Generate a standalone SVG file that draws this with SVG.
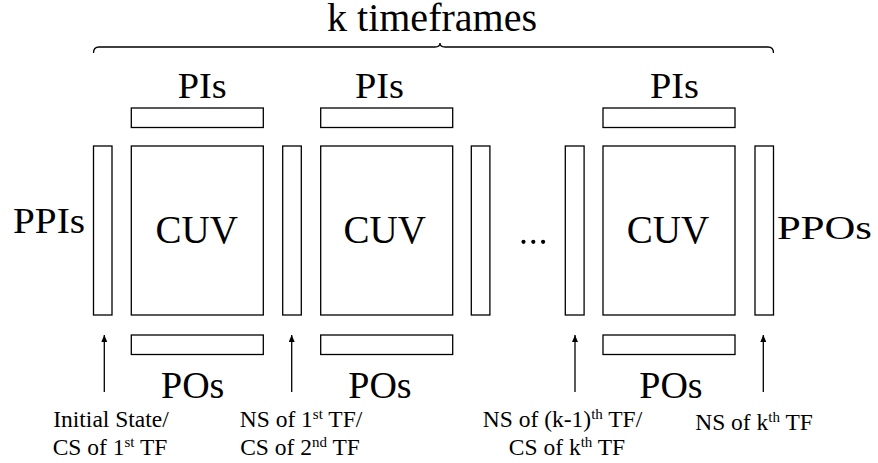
<svg xmlns="http://www.w3.org/2000/svg" width="878" height="463" viewBox="0 0 878 463">
  <style>
    .box { fill: #fff; stroke: #000; stroke-width: 1.3; }
    .wire { fill: none; stroke: #000; stroke-width: 1.3; }
    text { font-family: "Liberation Serif", "Times New Roman", serif; fill: #000; }
    .pi { font-size: 35px; }
    .po { font-size: 38px; }
    .cuv { font-size: 39px; text-anchor: middle; }
    .lbl { font-size: 23.5px; text-anchor: middle; }
    .sup { font-size: 15px; }
  </style>
  <defs>
    <marker id="tip" viewBox="0 0 7 6" refX="7" refY="3" markerWidth="7" markerHeight="6" markerUnits="userSpaceOnUse" orient="auto">
      <path d="M0,0 L7,3 L0,6 Z" fill="#000"/>
    </marker>
  </defs>

  <rect width="878" height="463" fill="#fff"/>

  <!-- span of all timeframes -->
  <g id="span">
    <path class="wire" d="M93.5,53 Q93.5,47 99,47 L435,47 Q440,47 440,43 Q440,47 445,47 L768,47 Q773.5,47 773.5,53"/>
    <text x="432" y="31" font-size="40" text-anchor="middle">k timeframes</text>
  </g>

  <!-- side labels -->
  <g id="ppi-label"><text x="13" y="233" font-size="35" textLength="72" lengthAdjust="spacingAndGlyphs">PPIs</text></g>
  <g id="ppo-label"><text x="777" y="239" font-size="34" textLength="95" lengthAdjust="spacingAndGlyphs">PPOs</text></g>

  <!-- state registers between timeframes -->
  <g id="reg0"><rect class="box" x="93.5" y="146" width="18.5" height="169"/></g>
  <g id="reg1"><rect class="box" x="282.7" y="146" width="18.6" height="169"/></g>
  <g id="reg2"><rect class="box" x="471.3" y="146" width="18.6" height="169"/></g>
  <g id="reg3"><rect class="box" x="565.3" y="146" width="18.8" height="169"/></g>
  <g id="reg4"><rect class="box" x="755" y="146" width="18.5" height="169"/></g>

  <!-- timeframe 1 -->
  <g id="pi1">
    <text class="pi" x="177.7" y="98" textLength="49" lengthAdjust="spacingAndGlyphs">PIs</text>
    <rect class="box" x="131.3" y="108" width="132" height="19.5"/>
  </g>
  <g id="cuv1">
    <rect class="box" x="131.3" y="146" width="132" height="169"/>
    <text class="cuv" x="196.7" y="243">CUV</text>
  </g>
  <g id="po1">
    <rect class="box" x="131.3" y="335" width="132" height="19.5"/>
    <text class="po" x="161" y="398">POs</text>
  </g>

  <!-- timeframe 2 -->
  <g id="pi2">
    <text class="pi" x="355" y="98" textLength="49" lengthAdjust="spacingAndGlyphs">PIs</text>
    <rect class="box" x="320.7" y="108" width="132" height="19.5"/>
  </g>
  <g id="cuv2">
    <rect class="box" x="320.7" y="146" width="132" height="169"/>
    <text class="cuv" x="384.7" y="243">CUV</text>
  </g>
  <g id="po2">
    <rect class="box" x="320.7" y="335" width="132" height="19.5"/>
    <text class="po" x="348.3" y="398">POs</text>
  </g>

  <!-- ellipsis between timeframes -->
  <g id="ellipsis">
    <circle cx="523.5" cy="241.8" r="2.1"/>
    <circle cx="533.3" cy="241.8" r="2.1"/>
    <circle cx="543.1" cy="241.8" r="2.1"/>
  </g>

  <!-- timeframe k -->
  <g id="pik">
    <text class="pi" x="650" y="98" textLength="49" lengthAdjust="spacingAndGlyphs">PIs</text>
    <rect class="box" x="603" y="108" width="132" height="19.5"/>
  </g>
  <g id="cuvk">
    <rect class="box" x="603" y="146" width="132" height="169"/>
    <text class="cuv" x="668" y="243">CUV</text>
  </g>
  <g id="pok">
    <rect class="box" x="603" y="335" width="132" height="19.5"/>
    <text class="po" x="639.3" y="398">POs</text>
  </g>

  <!-- state arrows into the registers -->
  <g id="connectors">
    <line class="wire" x1="104.3" y1="392" x2="104.3" y2="335" marker-end="url(#tip)"/>
    <line class="wire" x1="291.7" y1="392" x2="291.7" y2="335" marker-end="url(#tip)"/>
    <line class="wire" x1="575" y1="392" x2="575" y2="335" marker-end="url(#tip)"/>
    <line class="wire" x1="763.3" y1="392" x2="763.3" y2="335" marker-end="url(#tip)"/>
  </g>

  <!-- state labels -->
  <g id="state0">
    <text class="lbl" x="111" y="427">Initial State/</text>
    <text class="lbl" x="110" y="455">CS of 1<tspan class="sup" dy="-8">st</tspan><tspan dy="8"> TF</tspan></text>
  </g>
  <g id="state1">
    <text class="lbl" x="301" y="427">NS of 1<tspan class="sup" dy="-8">st</tspan><tspan dy="8"> TF/</tspan></text>
    <text class="lbl" x="300" y="455">CS of 2<tspan class="sup" dy="-8">nd</tspan><tspan dy="8"> TF</tspan></text>
  </g>
  <g id="state2">
    <text class="lbl" x="562.5" y="427">NS of (k-1)<tspan class="sup" dy="-8">th</tspan><tspan dy="8"> TF/</tspan></text>
    <text class="lbl" x="567" y="455">CS of k<tspan class="sup" dy="-8">th</tspan><tspan dy="8"> TF</tspan></text>
  </g>
  <g id="state3">
    <text class="lbl" x="754" y="430">NS of k<tspan class="sup" dy="-8">th</tspan><tspan dy="8"> TF</tspan></text>
  </g>
</svg>
